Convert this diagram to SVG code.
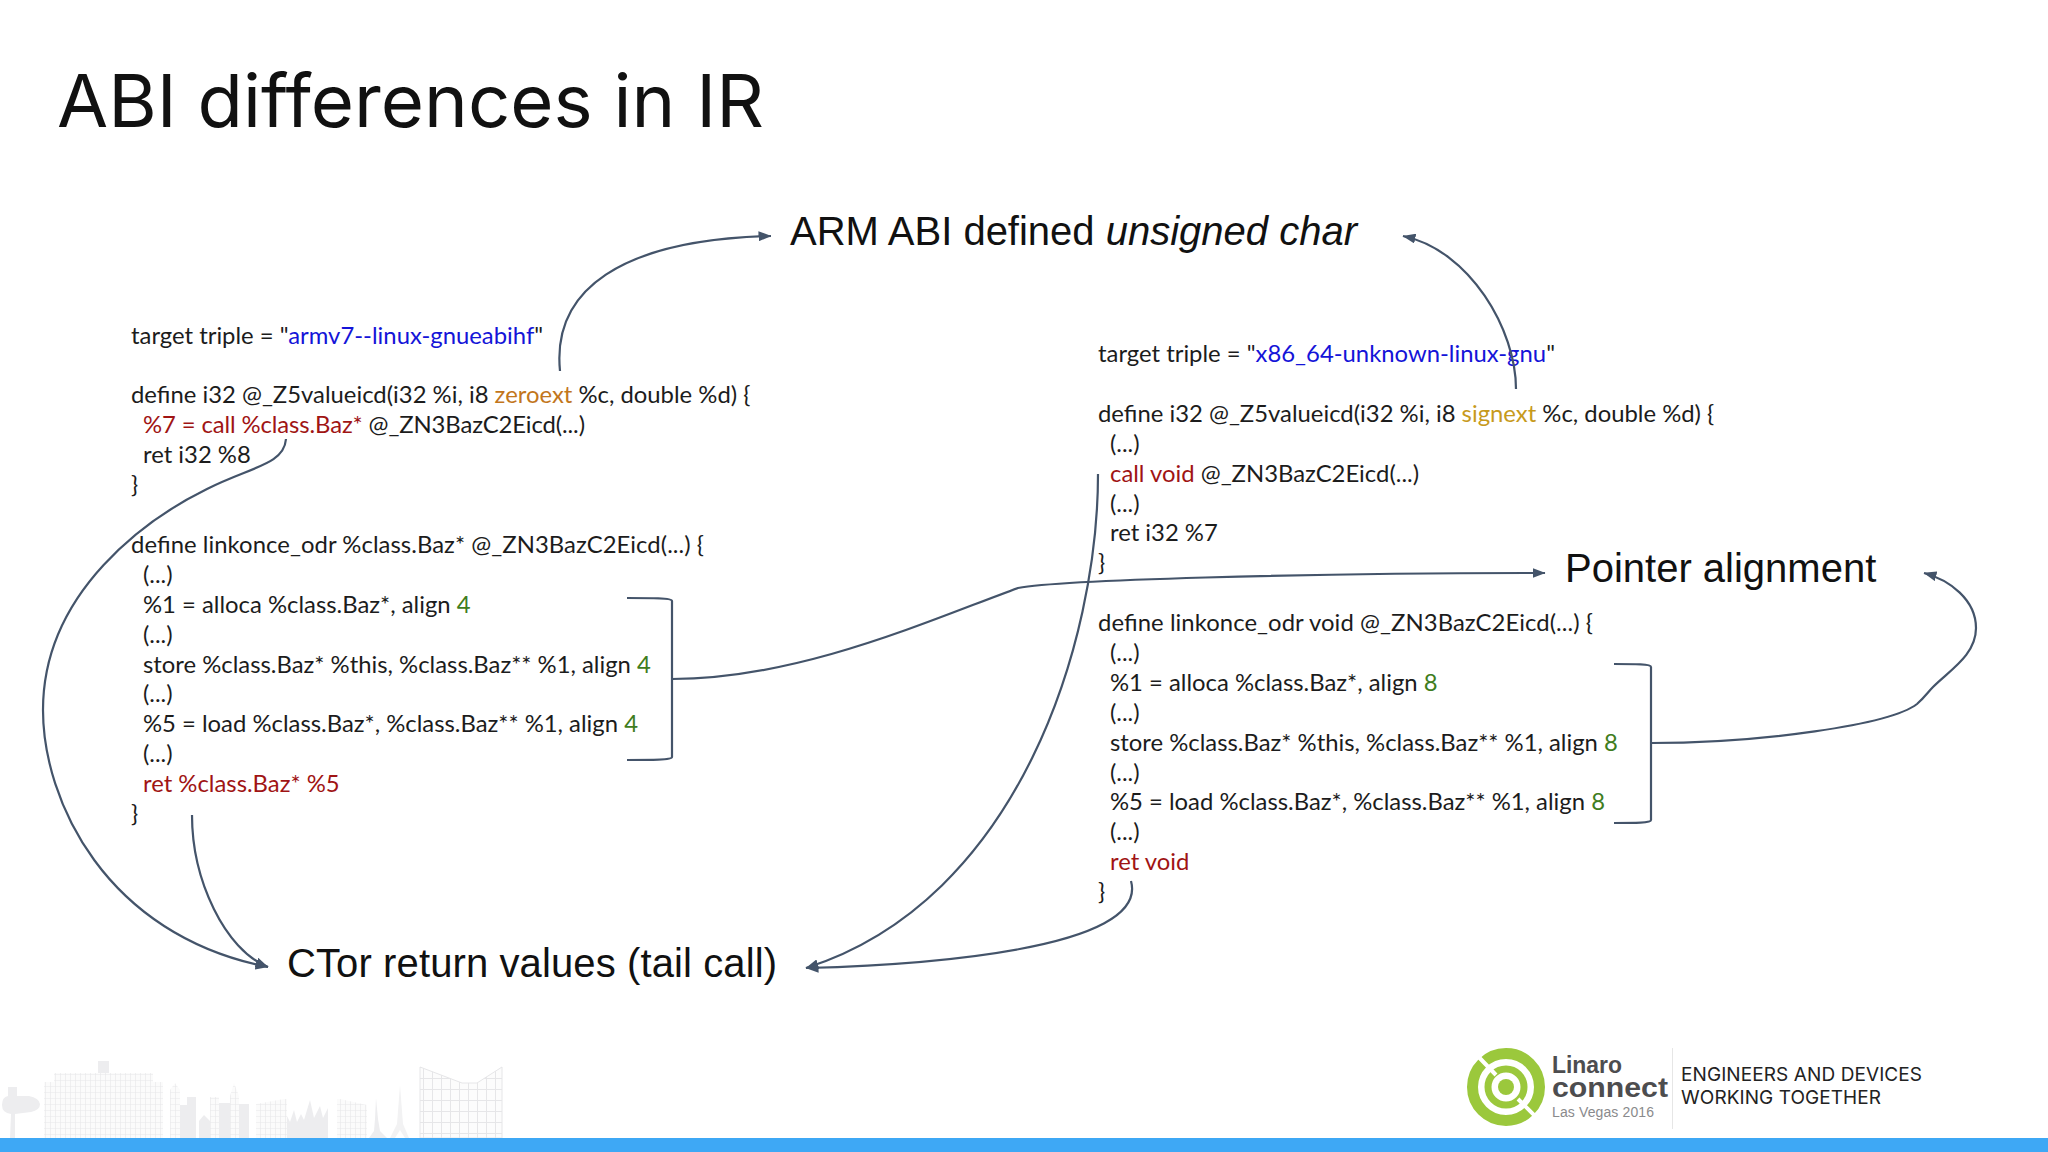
<svg xmlns="http://www.w3.org/2000/svg" width="2048" height="1152" viewBox="0 0 2048 1152">
<defs>
<style>
.c{font-family:"Lato","Open Sans",sans-serif;font-size:23.85px;fill:#1c1c1c}
.h{font-family:"Liberation Sans",Arial,sans-serif;font-size:40px;fill:#111}
.b{fill:#1414d8}.r{fill:#a01414}.g{fill:#3f7d20}.o{fill:#c2761c}.y{fill:#c79a1c}
.k{fill:none;stroke:#44546a;stroke-width:2.2}
.sky{fill:#ededef}
</style>
<marker id="ah" viewBox="0 0 13 10" refX="12.5" refY="5" markerWidth="13" markerHeight="10" markerUnits="userSpaceOnUse" orient="auto"><path d="M0 0L13 5L0 10Z" fill="#44546a"/></marker>
<pattern id="grid" width="5" height="6" patternUnits="userSpaceOnUse"><rect width="5" height="6" fill="#fbfbfb"/><path d="M0 0H5M0 0V6" stroke="#e8e8ea" stroke-width="1.2" fill="none"/></pattern>
<pattern id="wing" width="9" height="11" patternUnits="userSpaceOnUse"><rect width="9" height="11" fill="#fcfcfc"/><path d="M0 0H9M0 0V11" stroke="#e6e6e8" stroke-width="2" fill="none"/></pattern>
</defs>
<rect width="2048" height="1152" fill="#fff"/>
<text id="title" x="57" y="127" font-family="Inter,'Open Sans',sans-serif" font-size="73" fill="#111" textLength="707" lengthAdjust="spacingAndGlyphs">ABI differences in IR</text>

<g id="skyline">
<path class="sky" d="M8 1096v-9h9v9h12q10 2 11 8q0 6-9 8l-16 2l-1 25h-4l1-25q-9-1-9-9q0-8 6-9z"/>
<rect class="sky" x="13" y="1113" width="2" height="25"/>
<rect x="44" y="1082" width="119" height="56" fill="url(#grid)"/><rect x="54" y="1073" width="99" height="14" fill="url(#grid)"/><rect class="sky" x="98" y="1061" width="11" height="12"/><rect x="98" y="1073" width="11" height="65" fill="url(#grid)"/>
<path d="M170 1138v-48l5-7l5 7v48zM210 1138v-41h9v41zM230 1138v-42l4-13l5 13v42z" fill="url(#grid)"/>
<path class="sky" d="M180 1138v-33h7v33zM187 1138v-41h9v41zM199 1138v-17l5-6l6 6v17zM219 1138v-35h11v35zM239 1138v-34h10v34z"/>
<path d="M256 1138v-34l28-5h3v39zM337 1138v-39h3l27 6v33z" fill="url(#grid)"/>
<path class="sky" d="M287 1138v-22l3 6l4-12l3 12l4-8l3 6l6-20l4 18l6-12l3 12l5-10v30zM369 1138l5-7l1-12l1-21l2 21l2 12l7 7z"/>
<path d="M390 1138l7-14l3-39l3 39l6 14h-4l-5-8l-5 8z" fill="#f2f2f3"/>
<path d="M420 1138v-71l42 16h15l25-16v71z" fill="url(#wing)" stroke="#e6e6e8"/>
</g>
<rect id="band" x="0" y="1138" width="2048" height="14" fill="#3ea8f5"/>

<g id="logo" fill="none" stroke="#9bc83c">
<circle cx="1506" cy="1087" r="33.5" stroke-width="11"/><circle cx="1506" cy="1087" r="18" stroke-width="7"/><circle cx="1506" cy="1087" r="8" fill="#9bc83c" stroke="none"/>
<path d="M1470 1048l26 27M1518 1099l30 30" stroke="#fff" stroke-width="4"/>
</g>
<g id="footer-text">
<text x="1552" y="1073" font-family="'Liberation Sans',sans-serif" font-size="23" font-weight="700" fill="#4d4d4f" textLength="70" lengthAdjust="spacingAndGlyphs">Linaro</text>
<text x="1552" y="1096.5" font-family="'Liberation Sans',sans-serif" font-size="28" font-weight="700" fill="#4d4d4f" textLength="116" lengthAdjust="spacingAndGlyphs">connect</text>
<text x="1552" y="1116.5" font-family="'Liberation Sans',sans-serif" font-size="14" fill="#8a8a8c" textLength="102">Las Vegas 2016</text>
<rect x="1672" y="1048" width="1" height="81" fill="#e6e6e6"/>
<text x="1681" y="1081" font-family="Inter,sans-serif" font-size="19" fill="#222" textLength="241">ENGINEERS AND DEVICES</text>
<text x="1681" y="1104" font-family="Inter,sans-serif" font-size="19" fill="#222" textLength="200">WORKING TOGETHER</text>
</g>

<g id="code-armv7" class="c">
<text class="c" x="131" y="344">target triple = "<tspan class="b">armv7--linux-gnueabihf</tspan>"</text>
<text class="c" x="131" y="403">define i32 @_Z5valueicd(i32 %i, i8 <tspan class="o">zeroext</tspan> %c, double %d) {</text>
<text class="c" x="143" y="433" textLength="442"><tspan class="r">%7 = call %class.Baz*</tspan> @_ZN3BazC2Eicd(...)</text>
<text class="c" x="143" y="463">ret i32 %8</text>
<text class="c" x="131" y="493">}</text>
<text class="c" x="131" y="553" textLength="573">define linkonce_odr %class.Baz* @_ZN3BazC2Eicd(...) {</text>
<text class="c" x="143" y="583">(...)</text>
<text class="c" x="143" y="613">%1 = alloca %class.Baz*, align <tspan class="g">4</tspan></text>
<text class="c" x="143" y="643">(...)</text>
<text class="c" x="143" y="673">store %class.Baz* %this, %class.Baz** %1, align <tspan class="g">4</tspan></text>
<text class="c" x="143" y="702">(...)</text>
<text class="c" x="143" y="732">%5 = load %class.Baz*, %class.Baz** %1, align <tspan class="g">4</tspan></text>
<text class="c" x="143" y="762">(...)</text>
<text class="c r" x="143" y="792">ret %class.Baz* %5</text>
<text class="c" x="131" y="822">}</text>
</g>

<g id="code-x86" class="c">
<text class="c" x="1098" y="362">target triple = "<tspan class="b">x86_64-unknown-linux-gnu</tspan>"</text>
<text class="c" x="1098" y="422">define i32 @_Z5valueicd(i32 %i, i8 <tspan class="y">signext</tspan> %c, double %d) {</text>
<text class="c" x="1110" y="452">(...)</text>
<text class="c" x="1110" y="482"><tspan class="r">call void</tspan> @_ZN3BazC2Eicd(...)</text>
<text class="c" x="1110" y="512">(...)</text>
<text class="c" x="1110" y="541">ret i32 %7</text>
<text class="c" x="1098" y="571">}</text>
<text class="c" x="1098" y="631" textLength="495">define linkonce_odr void @_ZN3BazC2Eicd(...) {</text>
<text class="c" x="1110" y="661">(...)</text>
<text class="c" x="1110" y="691">%1 = alloca %class.Baz*, align <tspan class="g">8</tspan></text>
<text class="c" x="1110" y="721">(...)</text>
<text class="c" x="1110" y="751">store %class.Baz* %this, %class.Baz** %1, align <tspan class="g">8</tspan></text>
<text class="c" x="1110" y="781">(...)</text>
<text class="c" x="1110" y="810">%5 = load %class.Baz*, %class.Baz** %1, align <tspan class="g">8</tspan></text>
<text class="c" x="1110" y="840">(...)</text>
<text class="c r" x="1110" y="870">ret void</text>
<text class="c" x="1098" y="900">}</text>
</g>

<g id="label-arm"><text class="h" x="790" y="245">ARM ABI defined <tspan font-style="italic">unsigned char</tspan></text></g>
<g id="label-ctor"><text class="h" x="287" y="977" textLength="490">CTor return values (tail call)</text></g>
<g id="label-pointer"><text class="h" x="1565" y="582">Pointer alignment</text></g>

<g id="connectors">
<path class="k" marker-end="url(#ah)" d="M560 371C552 290 620 240 771 236"/>
<path class="k" marker-end="url(#ah)" d="M1516 389C1516 330 1470 250 1403 236"/>
<path class="k" marker-end="url(#ah)" d="M286 439C284 465 250 467 207 489C150 517 43 590 43 710C43 800 105 935 268 967"/>
<path class="k" marker-end="url(#ah)" d="M192 815C192 880 225 950 268 967"/>
<path class="k" marker-end="url(#ah)" d="M1098 474C1098 640 1020 900 806 968"/>
<path class="k" marker-end="url(#ah)" d="M1131 881C1150 950 920 965 806 968"/>
<path class="k" d="M627 598C650 598 672 598 672 601V757C672 760 650 760 627 760"/>
<path class="k" marker-end="url(#ah)" d="M672 679C800 679 930 620 1018 588C1060 580 1300 573 1545 573"/>
<path class="k" d="M1614 664C1635 664 1651 664 1651 667V820C1651 823 1635 823 1614 823"/>
<path class="k" marker-end="url(#ah)" d="M1651 743C1760 743 1890 725 1917 704C1925 697 1928 692 1933 687C1950 670 1976 655 1976 628C1976 600 1950 580 1924 573"/>
</g>
</svg>
